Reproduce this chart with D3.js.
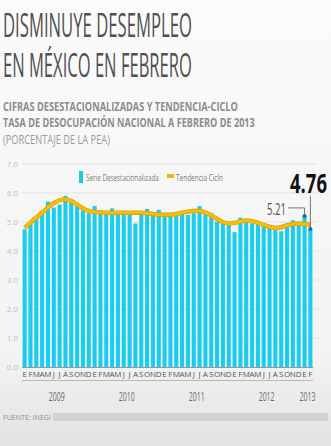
<html lang="es">
<head>
    <meta charset="utf-8">
    <title>Disminuye desempleo en México en febrero</title>
    <style>
        body {
            margin: 0;
            background: #f4f4f4;
        }

        svg {
            display: block;
            font-family: "Liberation Sans Narrow", "Open Sans", sans-serif;
        }
    </style>
</head>
<body>
<svg id="chart" width="331" height="446"></svg>
<script src="https://cdnjs.cloudflare.com/ajax/libs/d3/7.8.5/d3.min.js"></script>
<script>
    const monthLabels = ["E", "F", "M", "A", "M", "J", "J", "A", "S", "O", "N", "D"];
    const years = ["2009", "2010", "2011", "2012", "2013"];
    const yTicks = [0, 1, 2, 3, 4, 5, 6, 7];

    // serie desestacionalizada, ene 2009 - feb 2013
    const serie = [
        4.75, 4.95, 5.10, 5.30, 5.70, 5.50, 5.60, 5.90, 5.75, 5.60, 5.40, 5.30,
        5.55, 5.30, 5.30, 5.47, 5.30, 5.30, 5.30, 4.95, 5.30, 5.45, 5.30, 5.42,
        5.30, 5.25, 5.30, 5.35, 5.25, 5.30, 5.55, 5.35, 5.30, 5.00, 4.95, 4.90,
        4.65, 5.15, 5.00, 4.95, 4.95, 4.85, 4.80, 4.75, 4.68, 4.95, 5.06, 4.95,
        5.21, 4.76
    ];
    // tendencia-ciclo
    const tendencia = [
        4.80, 4.98, 5.15, 5.32, 5.50, 5.65, 5.75, 5.78, 5.72, 5.60, 5.47, 5.38,
        5.35, 5.33, 5.32, 5.32, 5.32, 5.32, 5.32, 5.32, 5.32, 5.30, 5.28, 5.25,
        5.25, 5.25, 5.28, 5.32, 5.36, 5.38, 5.38, 5.33, 5.22, 5.10, 5.00, 4.95,
        4.97, 5.02, 5.05, 5.03, 4.97, 4.90, 4.83, 4.80, 4.82, 4.88, 4.93, 4.95,
        4.93, 4.90
    ];

    const svg = d3.select("#chart");
    const W = 331, H = 446;

    // squeeze a text horizontally so it spans `width` pixels
    function fit(sel, width, anchorX)
    {
        const len = sel.node().getComputedTextLength();
        const k = width / len;
        sel.attr("transform", `translate(${anchorX},0) scale(${k},1) translate(${-anchorX},0)`);
        return sel;
    }

    const defs = svg.append("defs");
    const grad = defs.append("linearGradient").attr("id", "bg").attr("x1", 0).attr("x2", 0).attr("y1", 0).attr("y2", 1);
    grad.append("stop").attr("offset", "0%").attr("stop-color", "#fbfbfb");
    grad.append("stop").attr("offset", "80%").attr("stop-color", "#f3f3f3");
    grad.append("stop").attr("offset", "100%").attr("stop-color", "#e2e2e2");
    svg.append("rect").attr("width", W).attr("height", H).attr("fill", "url(#bg)");

    // titulos
    const titles = svg.append("g");
    fit(titles.append("text").attr("x", 3).attr("y", 37).attr("font-size", 32)
        .attr("fill", "#505050").text("DISMINUYE DESEMPLEO"), 189, 3);
    fit(titles.append("text").attr("x", 3).attr("y", 77).attr("font-size", 32)
        .attr("fill", "#505050").text("EN MÉXICO EN FEBRERO"), 189, 3);
    fit(titles.append("text").attr("x", 3).attr("y", 111).attr("font-size", 13).attr("font-weight", "bold")
        .attr("fill", "#8c8c8c").text("CIFRAS DESESTACIONALIZADAS Y TENDENCIA-CICLO"), 235, 3);
    fit(titles.append("text").attr("x", 3).attr("y", 127).attr("font-size", 13).attr("font-weight", "bold")
        .attr("fill", "#8c8c8c").text("TASA DE DESOCUPACIÓN NACIONAL A FEBRERO DE 2013"), 252, 3);
    fit(titles.append("text").attr("x", 3).attr("y", 144).attr("font-size", 13)
        .attr("fill", "#9a9a9a").text("(PORCENTAJE DE LA PEA)"), 107, 3);

    const x = d3.scaleBand().domain(d3.range(serie.length)).range([22, 313]).paddingInner(0.3).paddingOuter(0.1);
    const y = d3.scaleLinear().domain([0, 7]).range([367, 164]);

    // rejilla y eje y
    svg.append("g").selectAll("line").data(yTicks.filter(d => d > 0)).join("line")
        .attr("x1", 22).attr("x2", 318).attr("y1", d => y(d)).attr("y2", d => y(d))
        .attr("stroke", "#e2e2e2").attr("stroke-width", 1);
    svg.append("g").selectAll("text").data(yTicks).join("text")
        .attr("x", 18).attr("y", d => y(d) + 3).attr("text-anchor", "end")
        .attr("font-size", 8).attr("fill", "#bdbdbd")
        .text(d => d3.format(".1f")(d));

    // leyenda
    const legend = svg.append("g");
    legend.append("rect").attr("x", 79).attr("y", 171).attr("width", 4).attr("height", 12).attr("fill", "#1ec8e8");
    fit(legend.append("text").attr("x", 86).attr("y", 181).attr("font-size", 9).attr("fill", "#7a7a7a")
        .text("Serie Desestacionalizada"), 73, 86);
    legend.append("rect").attr("x", 167).attr("y", 174).attr("width", 7).attr("height", 4).attr("fill", "#f2b705");
    fit(legend.append("text").attr("x", 176).attr("y", 181).attr("font-size", 9).attr("fill", "#7a7a7a")
        .text("Tendencia Ciclo"), 47, 176);

    // barras
    svg.append("g").selectAll("rect").data(serie).join("rect")
        .attr("x", (d, i) => x(i)).attr("width", x.bandwidth())
        .attr("y", d => y(d)).attr("height", d => y(0) - y(d))
        .attr("fill", "#1acdee");

    // tendencia-ciclo
    const line = d3.line().x((d, i) => x(i) + x.bandwidth() / 2).y(d => y(d)).curve(d3.curveMonotoneX);
    svg.append("path").datum(tendencia).attr("d", line)
        .attr("fill", "none").attr("stroke", "#d99a00").attr("stroke-width", 4.4);
    svg.append("path").datum(tendencia).attr("d", line)
        .attr("fill", "none").attr("stroke", "#f5bd0a").attr("stroke-width", 3.2);

    // anotaciones de los dos ultimos meses
    const n = serie.length;
    const cx = i => x(i) + x.bandwidth() / 2;
    svg.append("path")
        .attr("d", `M${cx(n - 2)},${y(serie[n - 2])} V${y(5.21) - 8} H288`)
        .attr("fill", "none").attr("stroke", "#555").attr("stroke-width", 0.8);
    svg.append("line").attr("x1", cx(n - 1)).attr("x2", cx(n - 1))
        .attr("y1", 196).attr("y2", y(serie[n - 1]))
        .attr("stroke", "#555").attr("stroke-width", 0.8);
    svg.append("g").selectAll("circle").data([n - 2, n - 1]).join("circle")
        .attr("cx", cx).attr("cy", i => y(serie[i])).attr("r", 2)
        .attr("fill", "#1d6f86");
    fit(svg.append("text").attr("x", 267).attr("y", 215)
        .attr("font-size", 17).attr("fill", "#555")
        .text(d3.format(".2f")(serie[n - 2])), 19, 267);
    fit(svg.append("text").attr("x", 290).attr("y", 193)
        .attr("font-size", 26).attr("font-weight", "bold").attr("fill", "#111")
        .text(d3.format(".2f")(serie[n - 1])), 37, 290);

    // eje x
    svg.append("line").attr("x1", 22).attr("x2", 313).attr("y1", 367.5).attr("y2", 367.5)
        .attr("stroke", "#999").attr("stroke-width", 1);
    svg.append("g").selectAll("text").data(serie).join("text")
        .attr("x", (d, i) => cx(i)).attr("y", 377).attr("text-anchor", "middle")
        .attr("font-size", 8).attr("fill", "#555")
        .text((d, i) => monthLabels[i % 12]);
    svg.append("line").attr("x1", 22).attr("x2", 313).attr("y1", 380.5).attr("y2", 380.5)
        .attr("stroke", "#aaa").attr("stroke-width", 0.8);
    svg.append("g").selectAll("text").data(years).join("text")
        .attr("x", (d, i) => {
            const first = i * 12, last = Math.min(first + 11, n - 1);
            return (cx(first) + cx(last)) / 2 - 8;
        })
        .attr("y", 401)
        .attr("font-size", 12).attr("fill", "#6a6a6a")
        .text(d => d)
        .each(function () {
            const t = d3.select(this);
            fit(t, 16, +t.attr("x"));
        });

    // fuente
    svg.append("rect").attr("x", 53).attr("y", 413).attr("width", 275).attr("height", 8).attr("fill", "#d2d2d2");
    fit(svg.append("text").attr("x", 3).attr("y", 420).attr("font-size", 8).attr("fill", "#8a8a8a")
        .text("FUENTE: INEGI"), 48, 3);
</script>
</body>
</html>
